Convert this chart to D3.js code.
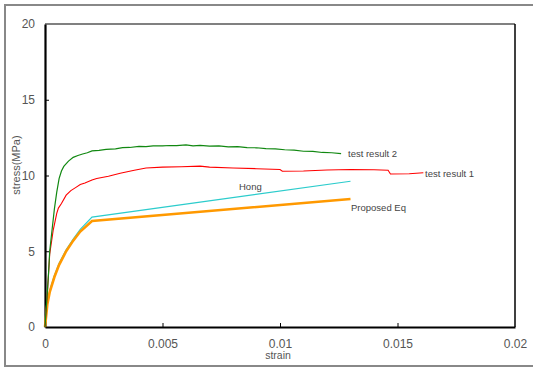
<!DOCTYPE html>
<meta charset="utf-8">
<head><title>stress-strain</title></head>
<style>
body { margin: 0; background: #fff; }
text { font-family: "Liberation Sans", Arial, sans-serif; fill: #555; }
</style>
<body>
<svg width="533" height="367"></svg>
<script src="https://d3js.org/d3.v7.min.js"></script>
<script>
// values: [strain, stress(MPa)]
var test2 = [[0,0],[0.00005,1.2],[0.0001,2.3],[0.00016,3.8],[0.0002,5.0],[0.0003,6.4],[0.0004,7.8],[0.0005,8.9],[0.0006,9.8],
  [0.0007,10.3],[0.0008,10.6],[0.001,10.95],[0.0012,11.2],[0.0014,11.32],[0.0016,11.42],[0.0018,11.5],[0.002,11.62],
  [0.0023,11.66],[0.0026,11.72],[0.003,11.76],[0.0033,11.84],[0.0036,11.85],[0.004,11.92],[0.0043,11.9],[0.0046,11.96],
  [0.005,11.95],[0.0053,11.98],[0.0056,11.97],[0.006,12.02],[0.0063,11.96],[0.0066,11.99],[0.007,11.94],[0.0074,11.95],
  [0.0078,11.89],[0.0082,11.9],[0.0086,11.84],[0.009,11.83],[0.0094,11.78],[0.0098,11.76],[0.0102,11.7],[0.0106,11.67],
  [0.011,11.6],[0.0114,11.59],[0.0118,11.52],[0.0122,11.5],[0.0126,11.45]];
var test1 = [[0,0],[0.00005,1.1],[0.0001,2.2],[0.00015,3.5],[0.0002,4.8],[0.00035,6.4],[0.0005,7.5],[0.00057,7.85],
  [0.0007,8.15],[0.0009,8.7],[0.0011,9.0],[0.0013,9.2],[0.0015,9.4],[0.0017,9.5],[0.002,9.7],[0.0022,9.8],
  [0.0027,9.95],[0.0032,10.15],[0.0038,10.35],[0.0043,10.5],[0.005,10.55],[0.0058,10.58],[0.0066,10.62],
  [0.007,10.55],[0.008,10.5],[0.009,10.45],[0.01,10.4],[0.0101,10.28],[0.011,10.3],[0.012,10.36],[0.013,10.4],
  [0.014,10.38],[0.0146,10.35],[0.0147,10.1],[0.0155,10.12],[0.0161,10.18]];
var hong = [[0,0],[0.0001,1.6],[0.0002,2.4],[0.0004,3.4],[0.0006,4.2],[0.0009,5.1],[0.0012,5.8],[0.0015,6.45],
  [0.002,7.25],[0.013,9.62]];
var proposed = [[0,0],[0.0001,1.5],[0.0002,2.3],[0.0004,3.3],[0.0006,4.1],[0.0009,5.0],[0.0012,5.7],[0.0015,6.3],
  [0.002,7.0],[0.013,8.45]];
var xTicks = [0, 0.005, 0.01, 0.015, 0.02];
var yTicks = [0, 5, 10, 15, 20];

var svg = d3.select('svg');
var mLeft = 45, mRight = 515, mTop = 24, mBottom = 327;
var x = d3.scaleLinear().domain([0, 0.02]).range([mLeft, mRight]);
var y = d3.scaleLinear().domain([0, 20]).range([mBottom, mTop]);

// outer frame
svg.append('rect').attr('x', 5).attr('y', 5).attr('width', 540).attr('height', 361)
  .attr('fill', 'none').attr('stroke', '#888').attr('stroke-width', 2);

// plot box
svg.append('line').attr('x1', mLeft).attr('x2', mRight).attr('y1', mTop).attr('y2', mTop)
  .attr('stroke', '#808080').attr('stroke-width', 2);
svg.append('line').attr('x1', mRight).attr('x2', mRight).attr('y1', mTop).attr('y2', mBottom)
  .attr('stroke', '#000').attr('stroke-width', 1.5);

var xAxis = svg.append('g').attr('transform', 'translate(0,' + mBottom + ')')
  .call(d3.axisBottom(x).tickValues(xTicks).tickFormat(d3.format('')).tickSizeInner(-4).tickSizeOuter(0).tickPadding(12));
var yAxis = svg.append('g').attr('transform', 'translate(' + mLeft + ',0)')
  .call(d3.axisLeft(y).tickValues(yTicks).tickSizeInner(-4).tickSizeOuter(0).tickPadding(10));
[xAxis, yAxis].forEach(function(a) {
  a.select('.domain').attr('stroke', '#000').attr('stroke-width', 2.2);
  a.selectAll('.tick line').attr('stroke', '#000').attr('stroke-width', 1);
  a.selectAll('.tick text').style('font-size', '12px').style('fill', '#555').style('font-family', '"Liberation Sans", Arial, sans-serif');
});
xAxis.selectAll('.tick').filter(function(d) { return d === 0 || d === 0.02; }).select('line').remove();
yAxis.selectAll('.tick').filter(function(d) { return d === 0 || d === 20; }).select('line').remove();

svg.append('text').attr('x', 278).attr('y', 359).attr('text-anchor', 'middle')
  .style('font-size', '10.5px').text('strain');
svg.append('text').attr('transform', 'translate(20,165) rotate(-90)').attr('text-anchor', 'middle')
  .style('font-size', '11px').text('stress(MPa)');

var line = d3.line().x(function(d) { return x(d[0]); }).y(function(d) { return y(d[1]); });
svg.append('path').datum(hong).attr('d', line).attr('fill', 'none').attr('stroke', '#2ccccc').attr('stroke-width', 1.2);
svg.append('path').datum(proposed).attr('d', line).attr('fill', 'none').attr('stroke', '#ff9900').attr('stroke-width', 2.6);
svg.append('path').datum(test1).attr('d', line).attr('fill', 'none').attr('stroke', '#ff0000').attr('stroke-width', 1.1);
svg.append('path').datum(test2).attr('d', line).attr('fill', 'none').attr('stroke', '#118811').attr('stroke-width', 1.2);

function label(t, px, py) {
  svg.append('text').attr('x', px).attr('y', py).style('font-size', '9.5px').style('fill', '#444').text(t);
}
label('test result 2', 348, 157);
label('test result 1', 425, 177);
label('Hong', 239, 190);
label('Proposed Eq', 351, 211);
</script>
</body>
